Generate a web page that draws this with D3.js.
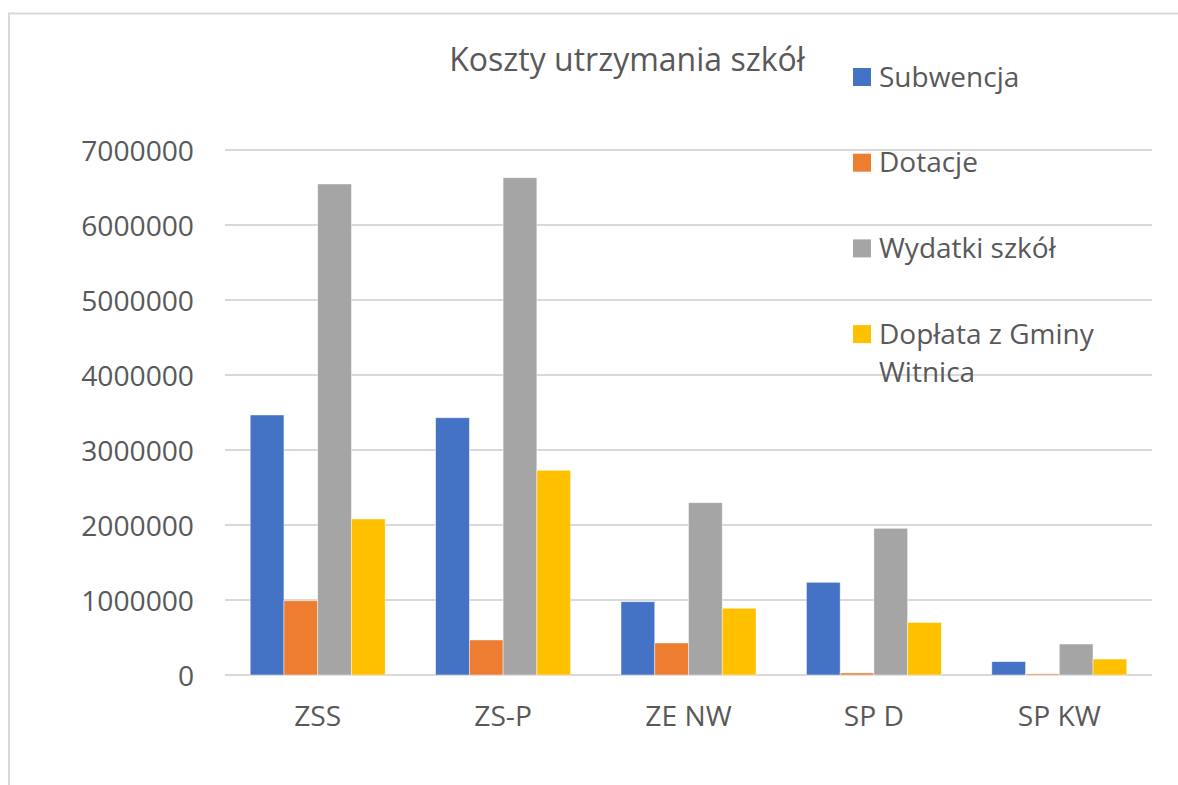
<!DOCTYPE html>
<html>
<head>
<meta charset="utf-8">
<script src="https://cdn.jsdelivr.net/npm/d3@7"></script>
<style>
  body { margin: 0; background: #fff; }
  text { font-family: "Open Sans", sans-serif; fill: #595959; }
</style>
</head>
<body>
<div id="chart"></div>
<script>
// dane
var schools = ["ZSS", "ZS-P", "ZE NW", "SP D", "SP KW"];
var seriesNames = ["Subwencja", "Dotacje", "Wydatki szkół", "Dopłata z Gminy Witnica"];
var subwencja = [3467000, 3430000, 977000, 1236000, 178000];
var dotacje = [990000, 467000, 427000, 27000, 15000];
var wydatki = [6547000, 6630000, 2297000, 1956000, 413000];
var doplata = [2080000, 2730000, 890000, 700000, 213000];
var yTicks = [0, 1000000, 2000000, 3000000, 4000000, 5000000, 6000000, 7000000];
var colors = ["#4472c4", "#ed7d31", "#a5a5a5", "#ffc000"];

var width = 1178, height = 785;
var allSeries = [subwencja, dotacje, wydatki, doplata];

var svg = d3.select("#chart")
    .append("svg")
    .attr("width", width)
    .attr("height", height);

// ramka wykresu (ucięta z prawej i z dołu)
svg.append("rect")
    .attr("x", 9).attr("y", 13.5)
    .attr("width", 1300).attr("height", 900)
    .attr("fill", "none")
    .attr("stroke", "#d9d9d9")
    .attr("stroke-width", 2);

var x0 = d3.scaleBand()
    .domain(schools)
    .range([225, 1152])
    .paddingInner(0.272)
    .paddingOuter(0.136);

var x1 = d3.scaleBand()
    .domain(d3.range(seriesNames.length))
    .range([0, x0.bandwidth()]);

var y = d3.scaleLinear()
    .domain([0, 7000000])
    .range([675, 150]);

// siatka
svg.append("g")
    .selectAll("line")
    .data(yTicks)
    .enter()
    .append("line")
    .attr("x1", 225).attr("x2", 1152)
    .attr("y1", function (d) { return y(d); })
    .attr("y2", function (d) { return y(d); })
    .attr("stroke", "#d9d9d9")
    .attr("stroke-width", 2);

// oś Y
var yAxis = svg.append("g")
    .attr("transform", "translate(194,0)")
    .call(d3.axisLeft(y).tickValues(yTicks).tickSize(0).tickPadding(0).tickFormat(d3.format("d")));
yAxis.select(".domain").remove();
yAxis.selectAll("text")
    .style("font-size", "28.2px")
    .attr("dy", "0.36em")
    .attr("fill", "#595959");

// oś X
var xAxis = svg.append("g")
    .attr("transform", "translate(0,675)")
    .call(d3.axisBottom(x0).tickSize(0).tickPadding(0));
xAxis.select(".domain").remove();
xAxis.selectAll("text")
    .style("font-size", "28.2px")
    .attr("dy", "0")
    .attr("y", 51)
    .attr("fill", "#595959");

// słupki
var groups = svg.append("g")
    .selectAll("g")
    .data(schools)
    .enter()
    .append("g")
    .attr("transform", function (d) { return "translate(" + x0(d) + ",0)"; });

groups.selectAll("rect")
    .data(function (d, i) {
        return allSeries.map(function (s, k) { return { k: k, value: s[i] }; });
    })
    .enter()
    .append("rect")
    .attr("x", function (d) { return x1(d.k); })
    .attr("width", x1.bandwidth())
    .attr("y", function (d) { return y(d.value); })
    .attr("height", function (d) { return y(0) - y(d.value); })
    .attr("fill", function (d) { return colors[d.k]; })
    .attr("stroke", "#ffffff")
    .attr("stroke-opacity", 0.6)
    .attr("stroke-width", 0.75);

// tytuł
svg.append("text")
    .attr("x", 627)
    .attr("y", 71)
    .attr("text-anchor", "middle")
    .style("font-size", "32px")
    .text("Koszty utrzymania szkół");

// legenda
var legend = svg.append("g")
    .selectAll("g")
    .data(seriesNames)
    .enter()
    .append("g")
    .attr("transform", function (d, i) { return "translate(853," + (68 + i * 85.7) + ")"; });

legend.append("rect")
    .attr("width", 18).attr("height", 18)
    .attr("fill", function (d, i) { return colors[i]; });

legend.append("text")
    .attr("x", 26)
    .attr("y", 18.5)
    .style("font-size", "28px")
    .each(function (d) {
        var t = d3.select(this);
        if (d === "Dopłata z Gminy Witnica") {
            t.append("tspan").attr("x", 26).text("Dopłata z Gminy");
            t.append("tspan").attr("x", 26).attr("dy", 38.5).text("Witnica");
        } else {
            t.text(d);
        }
    });
</script>
</body>
</html>
